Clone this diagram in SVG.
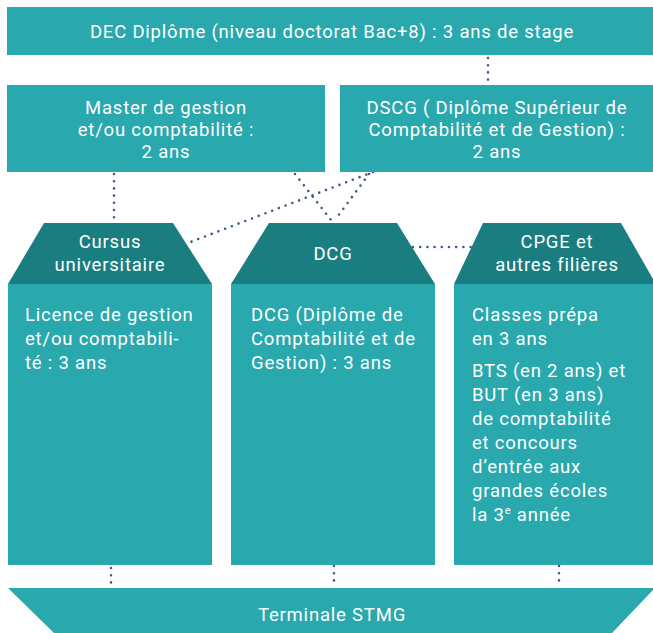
<svg xmlns="http://www.w3.org/2000/svg" width="653" height="633" viewBox="0 0 653 633">
<style>
.box{fill:#29a8ae}
.dark{fill:#1a7e81}
text{font-family:"Roboto","Liberation Sans",sans-serif;font-size:18.5px;fill:#ffffff;letter-spacing:0.8px}
.c{text-anchor:middle}
.dot{fill:none;stroke:#3d5a8a;stroke-width:2.6;stroke-linecap:round;stroke-dasharray:0 7.2}
</style>
<rect width="653" height="633" fill="#ffffff"/>
<g id="connectors">
<line class="dot" x1="488" y1="58" x2="488" y2="84"/>
<line class="dot" x1="114" y1="174" x2="114" y2="222"/>
<line class="dot" x1="295" y1="174" x2="331" y2="220"/>
<line class="dot" x1="369" y1="174" x2="335" y2="220"/>
<line class="dot" x1="373" y1="172" x2="188" y2="243"/>
<line class="dot" x1="413" y1="247" x2="472" y2="247"/>
<line class="dot" x1="111" y1="568" x2="111" y2="586"/>
<line class="dot" x1="334" y1="566" x2="334" y2="584"/>
<line class="dot" x1="559" y1="566" x2="559" y2="584"/>
</g>
<g id="dec">
<rect class="box" x="7" y="7" width="646" height="48"/>
<text class="c" x="332" y="37.5">DEC Diplôme (niveau doctorat Bac+8) : 3 ans de stage</text>
</g>
<g id="master">
<rect class="box" x="7" y="85" width="318" height="87"/>
<text class="c" x="166" y="113.5">Master de gestion</text>
<text class="c" x="166" y="136">et/ou comptabilité :</text>
<text class="c" x="166" y="158">2 ans</text>
</g>
<g id="dscg">
<rect class="box" x="340" y="85" width="313" height="87"/>
<text class="c" x="497" y="113.5">DSCG ( Diplôme Supérieur de</text>
<text class="c" x="497" y="136">Comptabilité et de Gestion) :</text>
<text class="c" x="497" y="158">2 ans</text>
</g>
<g id="cursus">
<polygon class="dark" points="44,223 173,223 212,284 8,284"/>
<rect class="box" x="8" y="284" width="204" height="281"/>
<text class="c" x="110" y="248">Cursus</text>
<text class="c" x="110" y="271">universitaire</text>
<text x="25" y="320.5">Licence de gestion</text>
<text x="25" y="344.5">et/ou comptabili-</text>
<text x="25" y="368.5">té : 3 ans</text>
</g>
<g id="dcg">
<polygon class="dark" points="269,223 397,223 435,284 231,284"/>
<rect class="box" x="231" y="284" width="204" height="281"/>
<text class="c" x="333" y="259.5">DCG</text>
<text x="251" y="320.5">DCG (Diplôme de</text>
<text x="251" y="344.5">Comptabilité et de</text>
<text x="251" y="368.5">Gestion) : 3 ans</text>
</g>
<g id="cpge">
<polygon class="dark" points="483,223 621,223 653,279 653,284 454,284"/>
<rect class="box" x="454" y="284" width="199" height="281"/>
<text class="c" x="557" y="248">CPGE et</text>
<text class="c" x="557" y="271">autres filières</text>
<text x="472" y="320.5">Classes prépa</text>
<text x="472" y="344.5">en 3 ans</text>
<text x="472" y="376.5">BTS (en 2 ans) et</text>
<text x="472" y="400.5">BUT (en 3 ans)</text>
<text x="472" y="424.5">de comptabilité</text>
<text x="472" y="448.5">et concours</text>
<text x="472" y="472.5">d’entrée aux</text>
<text x="472" y="497">grandes écoles</text>
<text x="472" y="521">la 3<tspan font-size="11" dy="-7">e</tspan><tspan dy="7"> année</tspan></text>
</g>
<g id="terminale">
<polygon class="box" points="8,588 653,588 653,590 612,633 54,633"/>
<text class="c" x="332" y="621">Terminale STMG</text>
</g>
</svg>
